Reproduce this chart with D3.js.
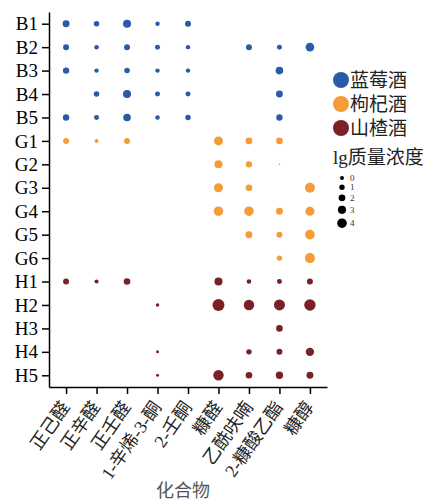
<!DOCTYPE html>
<html>
<head>
<meta charset="utf-8">
<script src="https://cdn.jsdelivr.net/npm/d3@7"></script>
<style>
  html, body { margin: 0; padding: 0; background: #fff; }
  svg { display: block; }
</style>
</head>
<body>
<svg id="chart" width="431" height="502"></svg>
<script>
// Compounds on the x axis and wine samples on the y axis
const compounds = ["正己醛", "正辛醛", "正壬醛", "1-辛烯-3-酮", "2-壬酮", "糠醛", "乙酰呋喃", "2-糠酸乙酯", "糠醇"];
const samples = ["B1", "B2", "B3", "B4", "B5", "G1", "G2", "G3", "G4", "G5", "G6", "H1", "H2", "H3", "H4", "H5"];
const wineTypes = ["蓝莓酒", "枸杞酒", "山楂酒"];
const wineColors = ["#2a5aa8", "#f59b38", "#7a2127"];
const sizeTicks = [0, 1, 2, 3, 4];

// lg mass concentration per sample (rows) and compound (columns); null = not detected
const blueberry = [
  [2.1, 1.1, 2.9, 0.3, 1.4, null, null, null, null],
  [1.4, 0.4, 1.4, 0.7, 0.3, null, 1.4, 0.7, 3.3],
  [1.7, 0.3, 1.1, 0.3, 0.3, null, null, 2.6, null],
  [null, 1.1, 2.9, 0.7, 0.7, null, null, 2.1, null],
  [1.7, 0.7, 2.6, 0.4, 1.0, null, null, 1.7, null]
];
const goji = [
  [1.4, 0.0, 1.4, null, null, 3.6, 1.9, 1.9, null],
  [null, null, null, null, null, 2.9, 1.7, -1.7, null],
  [null, null, null, null, null, 3.6, 1.9, null, 4.3],
  [null, null, null, null, null, 3.9, 3.9, 2.1, 3.6],
  [null, null, null, null, null, null, 2.1, 1.4, 4.0],
  [null, null, null, null, null, null, null, 1.0, 4.3]
];
const hawthorn = [
  [1.4, 0.0, 1.9, null, null, 2.9, 0.4, 0.7, 1.4],
  [null, null, null, -0.3, null, 5.7, 4.6, 5.0, 5.3],
  [null, null, null, null, null, null, null, 1.9, null],
  [null, null, null, -0.7, null, null, 1.0, 1.4, 3.1],
  [null, null, null, -0.7, null, 4.6, 1.9, 2.4, 2.1]
];

const groups = [blueberry, goji, hawthorn];
const points = [];
let rowIndex = 0;
groups.forEach((rows, g) => {
  rows.forEach(row => {
    const sample = samples[rowIndex++];
    row.forEach((v, c) => {
      if (v !== null) points.push({ sample, compound: compounds[c], value: v, group: g });
    });
  });
});

const svg = d3.select("#chart");
const serif = "'Liberation Serif', 'Times New Roman', serif";
const cjk = "'Liberation Serif', 'Noto Sans CJK SC', serif";

const x = d3.scalePoint().domain(compounds).range([49, 327]).padding(0.56);
const y = d3.scalePoint().domain(samples).range([12, 387]).padding(0.5);
const r = d3.scaleLinear().domain([0, 4]).range([2, 4.8]);
const color = d3.scaleOrdinal().domain([0, 1, 2]).range(wineColors);

// Axes
const xAxis = svg.append("g")
  .attr("transform", "translate(0,387)")
  .call(d3.axisBottom(x).tickSize(7).tickSizeOuter(0));
xAxis.select(".domain").attr("stroke", "#000").attr("stroke-width", 1.5);
xAxis.selectAll(".tick line").attr("stroke", "#000").attr("stroke-width", 1.5);
xAxis.selectAll(".tick text")
  .attr("font-family", cjk)
  .attr("font-size", 18)
  .attr("fill", "#222")
  .attr("text-anchor", "end")
  .attr("x", 0)
  .attr("y", 0)
  .attr("dy", 0)
  .attr("transform", "translate(4,20) rotate(-55)");

const yAxis = svg.append("g")
  .attr("transform", "translate(49,0)")
  .call(d3.axisLeft(y).tickSize(7).tickSizeOuter(0));
yAxis.select(".domain").attr("stroke", "#000").attr("stroke-width", 1.5);
yAxis.selectAll(".tick line").attr("stroke", "#000").attr("stroke-width", 1.5);
yAxis.selectAll(".tick text")
  .attr("font-family", serif)
  .attr("font-size", 19)
  .attr("fill", "#000")
  .attr("x", -11);

// Axis title
svg.append("text")
  .attr("x", 183).attr("y", 497)
  .attr("text-anchor", "middle")
  .attr("font-family", cjk)
  .attr("font-size", 18)
  .attr("fill", "#555")
  .text("化合物");

// Dots
svg.append("g").selectAll("circle")
  .data(points)
  .join("circle")
  .attr("cx", d => x(d.compound))
  .attr("cy", d => y(d.sample))
  .attr("r", d => Math.max(0.6, r(d.value)))
  .attr("fill", d => color(d.group));

// Colour legend
const legend = svg.append("g");
wineTypes.forEach((name, i) => {
  const cy = 80 + i * 24;
  legend.append("circle").attr("cx", 341).attr("cy", cy).attr("r", 8).attr("fill", wineColors[i]);
  legend.append("text")
    .attr("x", 350).attr("y", cy + 7)
    .attr("font-family", cjk).attr("font-size", 19).attr("fill", "#222")
    .text(name);
});

// Size legend
legend.append("text")
  .attr("x", 333).attr("y", 164)
  .attr("font-family", cjk).attr("font-size", 19).attr("fill", "#222")
  .text("lg质量浓度");

let ly = 178;
sizeTicks.forEach((v, i) => {
  if (i > 0) ly += r(sizeTicks[i - 1]) + r(v) + 4.5;
  legend.append("circle").attr("cx", 342).attr("cy", ly).attr("r", r(v)).attr("fill", "#000");
  legend.append("text")
    .attr("x", 350).attr("y", ly + 3)
    .attr("font-family", serif).attr("font-size", 9).attr("fill", "#333")
    .text(v);
});
</script>
</body>
</html>
